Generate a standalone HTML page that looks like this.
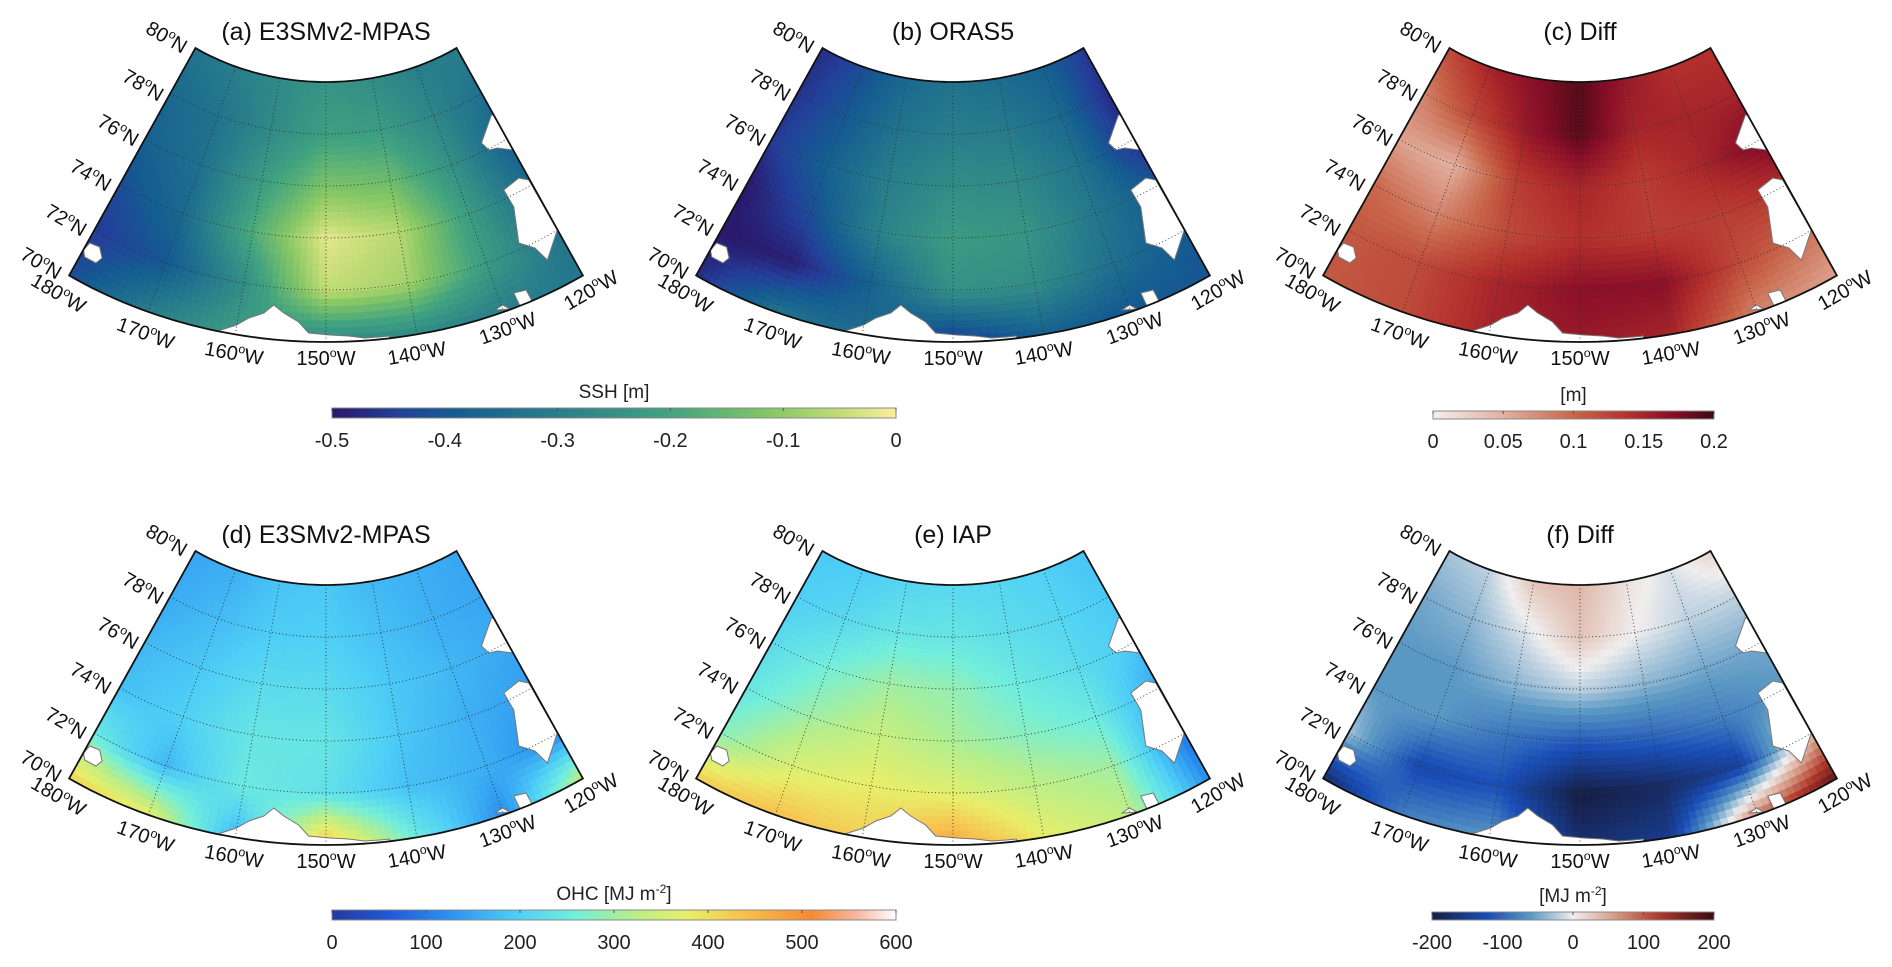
<!DOCTYPE html>
<html><head><meta charset="utf-8"><title>SSH and OHC maps</title>
<style>
html,body{margin:0;padding:0;background:#fff;}
svg{display:block;font-family:"Liberation Sans",Arial,sans-serif;}
</style></head>
<body>
<svg id="fig" width="1892" height="967" viewBox="0 0 1892 967" xmlns="http://www.w3.org/2000/svg">
<defs id="defs">
<linearGradient id="g-haline" x1="0" x2="1" y1="0" y2="0"></linearGradient>
<linearGradient id="g-amp" x1="0" x2="1" y1="0" y2="0"></linearGradient>
<linearGradient id="g-ohc" x1="0" x2="1" y1="0" y2="0"></linearGradient>
<linearGradient id="g-bal" x1="0" x2="1" y1="0" y2="0"></linearGradient>
</defs>
</svg>
<script>
// ---- data grids: rows = latitudes (80N..70N), cols = longitudes (180W..120W)
const lons = [-180, -170, -160, -150, -140, -130, -120];
const lats = [80, 78, 76, 74, 72, 70];
const sshModel = [
  [-0.33,-0.30,-0.27,-0.24,-0.26,-0.30,-0.30],
  [-0.36,-0.33,-0.27,-0.21,-0.22,-0.28,-0.34],
  [-0.38,-0.34,-0.22,-0.12,-0.14,-0.25,-0.38],
  [-0.42,-0.36,-0.18,-0.02,-0.06,-0.22,-0.36],
  [-0.45,-0.40,-0.26,-0.05,-0.08,-0.22,-0.33],
  [-0.42,-0.30,-0.22,-0.28,-0.27,-0.30,-0.32]];
const sshOras5 = [
  [-0.47,-0.42,-0.36,-0.33,-0.35,-0.38,-0.45],
  [-0.46,-0.40,-0.33,-0.30,-0.31,-0.36,-0.47],
  [-0.45,-0.38,-0.30,-0.26,-0.27,-0.33,-0.47],
  [-0.50,-0.42,-0.29,-0.22,-0.24,-0.32,-0.40],
  [-0.50,-0.49,-0.38,-0.25,-0.26,-0.34,-0.40],
  [-0.47,-0.33,-0.35,-0.46,-0.38,-0.40,-0.40]];
const sshDiff = [
  [0.12,0.15,0.17,0.19,0.16,0.14,0.14],
  [0.08,0.12,0.16,0.19,0.15,0.15,0.15],
  [0.06,0.05,0.13,0.15,0.13,0.15,0.18],
  [0.10,0.08,0.12,0.14,0.13,0.13,0.14],
  [0.11,0.12,0.15,0.17,0.17,0.12,0.09],
  [0.11,0.12,0.15,0.16,0.15,0.08,0.06]];
const ohcModel = [
  [150,160,185,190,170,160,150],
  [155,175,195,200,180,160,150],
  [170,190,220,220,190,170,150],
  [180,200,240,240,190,160,140],
  [250,170,250,230,180,160,110],
  [420,380,160,450,250,120,340]];
const ohcIap = [
  [190,195,210,215,210,200,185],
  [200,215,240,240,225,210,190],
  [220,260,300,290,250,220,190],
  [240,300,340,310,280,250,150],
  [280,360,380,370,330,300,90],
  [420,440,420,480,380,330,120]];
const ohcDiff = [
  [-30,-20,30,40,10,-10,20],
  [-50,-40,-10,30,0,-20,-20],
  [-60,-60,-40,-20,-40,-50,-50],
  [-60,-60,-90,-110,-100,-80,-60],
  [-30,-130,-120,-200,-180,-140,40],
  [-180,-80,-60,-170,-150,80,180]];
const sshTicks = [-0.5,-0.4,-0.3,-0.2,-0.1,0];
const sshTickLabels = ["-0.5","-0.4","-0.3","-0.2","-0.1","0"];
const ampTicks = [0,0.05,0.1,0.15,0.2];
const ampTickLabels = ["0","0.05","0.1","0.15","0.2"];
const ohcTicks = [0,100,200,300,400,500,600];
const ohcTickLabels = ["0","100","200","300","400","500","600"];
const balTicks = [-200,-100,0,100,200];
const balTickLabels = ["-200","-100","0","100","200"];

const CM = {
 haline:[[0,'#2a186c'],[0.12,'#23409a'],[0.22,'#145d91'],[0.4,'#297e8b'],[0.6,'#41a380'],[0.78,'#86c765'],[0.9,'#c2dc75'],[1,'#fbee9c']],
 amp:[[0,'#f3eeee'],[0.25,'#e2b0a0'],[0.5,'#c8664a'],[0.7,'#b3302c'],[0.85,'#8a0f28'],[1,'#3c0912']],
 ohc:[[0,'#253a9e'],[0.1,'#2058d8'],[0.2,'#2a8df0'],[0.33,'#4fcff6'],[0.43,'#72eedc'],[0.53,'#b5ee8c'],[0.63,'#e8ee6a'],[0.73,'#f8c14e'],[0.85,'#f58a32'],[0.93,'#f6b6a0'],[1,'#ffffff']],
 bal:[[0,'#161d43'],[0.2,'#1a4fb8'],[0.35,'#5a98c4'],[0.5,'#f0eeee'],[0.65,'#d69a84'],[0.8,'#b03a2c'],[1,'#3c0912']]
};
function hex(c){return [parseInt(c.slice(1,3),16),parseInt(c.slice(3,5),16),parseInt(c.slice(5,7),16)];}
function cmap(name,t){
  const s=CM[name]; t=Math.max(0,Math.min(1,t));
  for(let i=1;i<s.length;i++){ if(t<=s[i][0]){ const a=hex(s[i-1][1]),b=hex(s[i][1]);const f=(t-s[i-1][0])/(s[i][0]-s[i-1][0]);
    return 'rgb('+a.map((v,k)=>Math.round(v+(b[k]-v)*f)).join(',')+')';}}
  return s[s.length-1][1];
}
const NS='http://www.w3.org/2000/svg';
const svg=document.getElementById('fig');
const defs=document.getElementById('defs');
function el(tag,attrs,parent){const e=document.createElementNS(NS,tag);for(const k in attrs)e.setAttribute(k,attrs[k]);(parent||svg).appendChild(e);return e;}
for(const [id,name] of [['g-haline','haline'],['g-amp','amp'],['g-ohc','ohc'],['g-bal','bal']]){
  const g=document.getElementById(id);
  CM[name].forEach(s=>el('stop',{offset:s[0],'stop-color':s[1]},g));
}

const D2R=Math.PI/180;
function proj(p,lon,lat){
  const u=(lon+150)/30, v=(lat-70)/10;
  const a1=u*35.7*D2R, a2=u*35.9*D2R;
  const bx=354*Math.sin(a1), by=-12+354*Math.cos(a1);
  const tx=179*Math.sin(a2), ty=-97+179*Math.cos(a2);
  return [p.cx+(bx+(tx-bx)*v)*p.sx, p.oy+by+(ty-by)*v];
}
function field(grid,lon,lat){
  let c=(lon+180)/10, r=(80-lat)/2;
  c=Math.max(0,Math.min(5.9999,c)); r=Math.max(0,Math.min(4.9999,r));
  const c0=Math.floor(c), r0=Math.floor(r), fc=c-c0, fr=r-r0;
  const a=grid[r0][c0]+(grid[r0][c0+1]-grid[r0][c0])*fc;
  const b=grid[r0+1][c0]+(grid[r0+1][c0+1]-grid[r0+1][c0])*fc;
  return a+(b-a)*fr;
}
const lands=[
 [[175,331],[190,325],[200,318],[212,313],[220,305],[228,313],[240,322],[248,333],[265,335],[280,336],[293,338],[305,337],[313,336],[314,360],[175,360]],
 [[405,190],[417,178],[425,180],[448,230],[440,260],[430,248],[417,243],[413,207]],
 [[387,143],[395,115],[397,115],[412,150],[400,148],[393,150]],
 [[67,250],[72,243],[80,247],[82,258],[77,263],[68,257]],
 [[413,293],[423,290],[428,302],[418,306]],
 [[398,310],[404,305],[410,309]]
];
function sup(t,base,suffix,fs){
  t.appendChild(document.createTextNode(base));
  const s=el('tspan',{dy:-fs*0.4,'font-size':fs*0.62},t); s.textContent='o';
  const n=el('tspan',{dy:fs*0.4},t); n.textContent=suffix;
}
function framePath(p){
  let d='';
  for(let k=0;k<=60;k++){const q=proj(p,-180+k,70);d+=(k?'L':'M')+q[0].toFixed(1)+','+q[1].toFixed(1);}
  for(let k=60;k>=0;k--){const q=proj(p,-180+k,80);d+='L'+q[0].toFixed(1)+','+q[1].toFixed(1);}
  return d+'Z';
}
function panel(p){
  const fd=framePath(p);
  const cp=el('clipPath',{id:'clip-'+p.id},defs);
  el('path',{d:fd},cp);
  const g=el('g',{'clip-path':'url(#clip-'+p.id+')'});
  
  
  const NU=72,NV=36;
  const [lo,hi]=p.range;
  for(let i=0;i<NU;i++)for(let j=0;j<NV;j++){
    const l0=-180+60*i/NU,l1=-180+60*(i+1)/NU,t0=70+10*j/NV,t1=70+10*(j+1)/NV;
    const val=field(p.data,(l0+l1)/2,(t0+t1)/2);
    const col=cmap(p.cm,(val-lo)/(hi-lo));
    const pts=[proj(p,l0,t0),proj(p,l1,t0),proj(p,l1,t1),proj(p,l0,t1)];
    const c=el('path',{d:'M'+pts.map(q=>q[0].toFixed(1)+','+q[1].toFixed(1)).join('L')+'Z',fill:col,stroke:col,'stroke-width':0.6},g);
    
    
  }
  lands.forEach(L=>{
    const d='M'+L.map(q=>(p.cx+(q[0]-262)*p.sx).toFixed(1)+','+(p.oy+q[1]).toFixed(1)).join('L')+'Z';
    const e=el('path',{d:d,fill:'#fff',stroke:'#777','stroke-width':1},g);
    
    
  });
  for(const lat of [72,74,76,78]){
    let d='';for(let k=0;k<=60;k++){const q=proj(p,-180+k,lat);d+=(k?'L':'M')+q[0].toFixed(1)+','+q[1].toFixed(1);}
    const e=el('path',{d:d,fill:'none',stroke:'#333','stroke-width':0.9,'stroke-dasharray':'1,2.5'},g);
    
    
  }
  for(const lon of [-170,-160,-150,-140,-130]){
    const a=proj(p,lon,70),b=proj(p,lon,80);
    const e=el('line',{x1:a[0],y1:a[1],x2:b[0],y2:b[1],stroke:'#333','stroke-width':0.9,'stroke-dasharray':'1,2.5'},g);
    
    
  }
  const fr=el('path',{d:fd,fill:'none',stroke:'#111','stroke-width':1.8});
  
  
  const t=el('text',{x:p.cx,y:p.oy+40,'text-anchor':'middle','font-size':25,fill:'#111'});
  t.textContent=p.title;
  
  
  const latL=[[80,-128,37],[78,-147,85],[76,-167,130],[74,-189,175],[72,-209,220],[70,-229,263]];
  latL.forEach(a=>{
    const tt=el('text',{transform:'translate('+(p.cx+a[1]*p.sx).toFixed(1)+','+(p.oy+a[2])+') rotate(30)','text-anchor':'middle',y:7,'font-size':20,fill:'#111'});
    sup(tt,String(a[0]),'N',20);
    
    
  });
  const lonL=[[180,-215,293,30],[170,-145,333,20],[160,-74,353,10],[150,0,358,0],[140,73,353,-10],[130,146,328,-20],[120,213,290,-30]];
  lonL.forEach(a=>{
    const tt=el('text',{transform:'translate('+(p.cx+a[1]*p.sx).toFixed(1)+','+(p.oy+a[2])+') rotate('+a[3]+')','text-anchor':'middle',y:7,'font-size':20,fill:'#111'});
    sup(tt,String(a[0]),'W',20);
    
    
  });
}
const SX=1.2437;
const panels=[
 {id:'a',title:'(a) E3SMv2-MPAS',cx:326,oy:0,sx:SX,data:sshModel,cm:'haline',range:[-0.5,0]},
 {id:'b',title:'(b) ORAS5',cx:953,oy:0,sx:SX,data:sshOras5,cm:'haline',range:[-0.5,0]},
 {id:'c',title:'(c) Diff',cx:1580,oy:0,sx:SX,data:sshDiff,cm:'amp',range:[0,0.2]},
 {id:'d',title:'(d) E3SMv2-MPAS',cx:326,oy:503,sx:SX,data:ohcModel,cm:'ohc',range:[0,600]},
 {id:'e',title:'(e) IAP',cx:953,oy:503,sx:SX,data:ohcIap,cm:'ohc',range:[0,600]},
 {id:'f',title:'(f) Diff',cx:1580,oy:503,sx:SX,data:ohcDiff,cm:'bal',range:[-200,200]}
];
panels.forEach(panel);

function colorbar(id,x0,x1,y,h,grad,ticks,labels,range,label,labelSup){
  const g=el('g',{});
  
  
  el('rect',{x:x0,y:y,width:x1-x0,height:h,fill:'url(#'+grad+')',stroke:'#888','stroke-width':1},g);
  ticks.forEach((tv,i)=>{
    const x=x0+(tv-range[0])/(range[1]-range[0])*(x1-x0);
    el('line',{x1:x,x2:x,y1:y,y2:y+3,stroke:'#555','stroke-width':1},g);
    const t=el('text',{x:x,y:y+h+29,'text-anchor':'middle','font-size':20,fill:'#222'},g);
    t.textContent=labels[i];
    
    
  });
  const lt=el('text',{x:(x0+x1)/2,y:y-10,'text-anchor':'middle','font-size':19,fill:'#222'},g);
  lt.textContent=label;
  if(labelSup){const s=el('tspan',{dy:-7,'font-size':12},lt);s.textContent='-2';const s2=el('tspan',{dy:7},lt);s2.textContent=']';}
  
  
}
colorbar('ssh-colorbar',332,896,408,10,'g-haline',sshTicks,sshTickLabels,[-0.5,0],'SSH [m]',false);
colorbar('ssh-diff-colorbar',1433,1714,411,8,'g-amp',ampTicks,ampTickLabels,[0,0.2],'[m]',false);
colorbar('ohc-colorbar',332,896,910,10,'g-ohc',ohcTicks,ohcTickLabels,[0,600],'OHC [MJ m',true);
colorbar('ohc-diff-colorbar',1432,1714,912,8,'g-bal',balTicks,balTickLabels,[-200,200],'[MJ m',true);
</script>
</body></html>
